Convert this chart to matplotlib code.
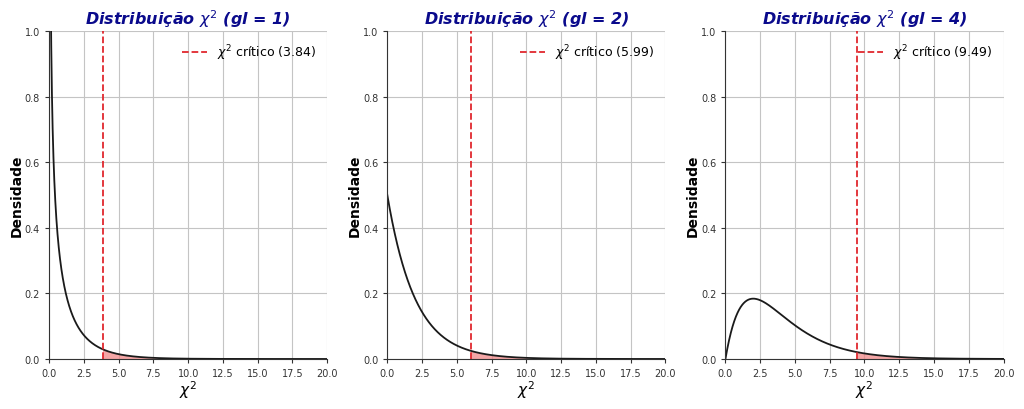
import math
import numpy as np
import matplotlib
matplotlib.use("Agg")
import matplotlib.pyplot as plt

# degrees of freedom and critical values (alpha = 0.05)
gl_list = [1, 2, 4]
criticos = [3.84, 5.99, 9.49]
x_max = 20


def chi2_pdf(x, k):
    out = np.zeros_like(x)
    pos = x > 0
    xp = x[pos]
    out[pos] = xp ** (k / 2 - 1) * np.exp(-xp / 2) / (2 ** (k / 2) * math.gamma(k / 2))
    return out


fig, axes = plt.subplots(1, 3, figsize=(10.24, 4.1), dpi=100)

for ax, gl, crit in zip(axes, gl_list, criticos):
    x = np.linspace(0.0005, x_max, 2000)
    y = chi2_pdf(x, gl)
    ax.plot(x, y, color="#1a1a1a", lw=1.3)
    mask = x >= crit
    ax.fill_between(x[mask], y[mask], color="lightcoral", alpha=0.7, lw=0)
    ax.axvline(crit, color="#e0282e", ls="--", lw=1.3,
               label=r"$\chi^2$ crítico (%.2f)" % crit)

    ax.set_xlim(0, x_max)
    ax.set_ylim(0, 1.0)
    ax.set_title(r"Distribuição $\chi^2$ (gl = %d)" % gl, fontsize=11.5,
                 fontweight="bold", fontstyle="italic", color="#0a0a8c", pad=5)
    ax.set_xlabel(r"$\chi^2$", fontsize=11, labelpad=0)
    ax.set_ylabel("Densidade", fontsize=10, fontweight="bold", labelpad=1)
    ax.set_xticks(np.arange(0, 20.1, 2.5))
    ax.set_yticks(np.arange(0, 1.01, 0.2))
    ax.tick_params(labelsize=7, length=3, colors="#333333")
    ax.grid(True, color="#c4c4c4", lw=0.8)
    ax.set_axisbelow(True)
    for s in ["top", "right"]:
        ax.spines[s].set_visible(False)
    for s in ["left", "bottom"]:
        ax.spines[s].set_color("#333333")
    ax.legend(loc="upper right", frameon=False, fontsize=9)

fig.subplots_adjust(left=0.048, right=0.98, top=0.922, bottom=0.122, wspace=0.216)
fig.savefig("out.png", dpi=100)
